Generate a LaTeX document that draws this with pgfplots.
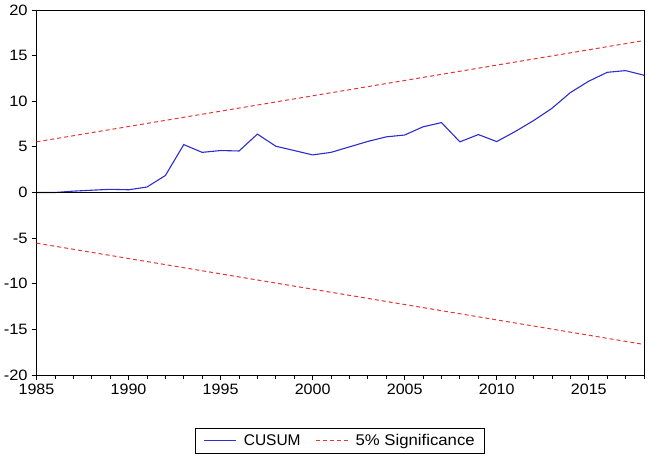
\documentclass[border=0pt]{standalone}
\usepackage{fontspec}
\setmainfont{Liberation Sans}
\usepackage{pgfplots}
\pgfplotsset{compat=1.18}
\definecolor{cusumblue}{RGB}{45,45,205}
\definecolor{sigred}{RGB}{225,55,55}
\begin{document}
\begin{tikzpicture}
\begin{axis}[
    at={(0,0)}, anchor=south west,
    scale only axis,
    width=607.5pt, height=365pt,
    xmin=1985, xmax=2018,
    ymin=-20, ymax=20,
    xtick={1985,1990,...,2015},
    minor xtick={1986,...,2018},
    ytick={-20,-15,...,20},
    tick align=outside,
    xtick pos=bottom, ytick pos=left,
    major tick length=5pt, minor tick length=4pt,
    tick style={black, line width=0.8pt},
    axis line style={black, line width=0.9pt},
    x tick label style={/pgf/number format/1000 sep={}, xscale=1.07},
    y tick label style={xscale=1.1},
    tick label style={font=\fontsize{15}{17}\selectfont},
    /pgf/number format/assume math mode=true,
    legend columns=2,
    legend style={at={(0.5,0)}, anchor=north, yshift=-53pt,
        font=\fontsize{15.5}{17}\selectfont, draw=black, line width=0.8pt,
        inner xsep=8pt, inner ysep=4pt,
        /tikz/every odd column/.append style={column sep=5pt},
        /tikz/every even column/.append style={column sep=13pt}},
    legend image code/.code={\draw[#1] (0pt,0pt) -- (32pt,0pt);},
    clip=false,
]
\addplot[cusumblue, line width=1.1pt] coordinates {
    (1985,0.00)(1986,0.00)(1987,0.15)(1988,0.25)(1989,0.35)(1990,0.30)
    (1991,0.60)(1992,1.86)(1993,5.25)(1994,4.40)(1995,4.60)(1996,4.55)
    (1997,6.40)(1998,5.07)(1999,4.60)(2000,4.12)(2001,4.40)(2002,5.00)
    (2003,5.60)(2004,6.10)(2005,6.30)(2006,7.20)(2007,7.66)(2008,5.55)
    (2009,6.35)(2010,5.58)(2011,6.68)(2012,7.88)(2013,9.23)(2014,10.95)
    (2015,12.20)(2016,13.17)(2017,13.36)(2018,12.85)
};
\addlegendentry{CUSUM}
\addplot[sigred, line width=1pt, dash pattern=on 4pt off 3pt] coordinates {
    (1985,5.55)(2018,16.65)
};
\addlegendentry{\scalebox{1.08}[1]{5\% Significance}}
\addplot[sigred, line width=1pt, dash pattern=on 4pt off 3pt, forget plot] coordinates {
    (1985,-5.55)(2018,-16.65)
};
\addplot[black, line width=0.9pt, forget plot] coordinates {(1985,0)(2018,0)};
\end{axis}
\path (-36.5pt,-81pt) rectangle (613.5pt,375pt);
\end{tikzpicture}
\end{document}
